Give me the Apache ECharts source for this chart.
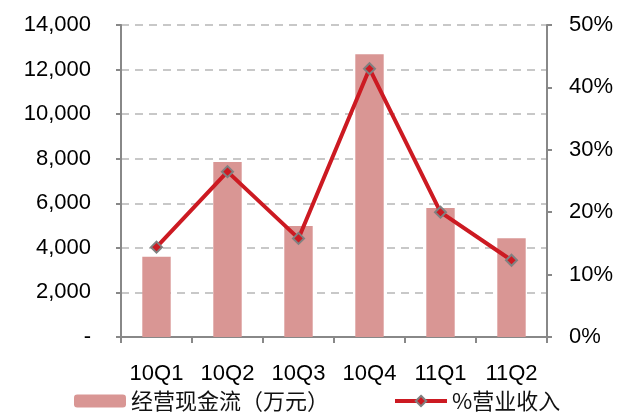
<!DOCTYPE html>
<html>
<head>
<meta charset="utf-8">
<script src="https://cdn.jsdelivr.net/npm/echarts@6/dist/echarts.min.js"></script>
<style>html,body{margin:0;padding:0;background:#fff}#c{width:632px;height:417px}</style>
</head>
<body>
<div id="c"></div>
<script>
const categories = ['10Q1', '10Q2', '10Q3', '10Q4', '11Q1', '11Q2'];
const cashFlow = [3600, 7850, 4980, 12690, 5790, 4430];
const revenuePct = [14.4, 26.5, 15.8, 43.0, 20.0, 12.3];
const barName = '经营现金流（万元）';
const lineName = '%营业收入';

const chart = echarts.init(document.getElementById('c'));
const axisCol = '#888888';
const font = 'Liberation Sans, Arial, sans-serif';
chart.setOption({
  animation: false,
  grid: { left: 121, right: 85, top: 25, bottom: 80 },
  legend: {
    bottom: 0,
    left: 69,
    itemGap: 64,
    itemWidth: 52,
    itemHeight: 13,
    textStyle: { fontSize: 22, color: '#111', fontFamily: 'Noto Sans CJK SC, sans-serif' },
    data: [barName, { name: lineName, lineStyle: { width: 4 } }]
  },
  xAxis: {
    type: 'category',
    data: categories,
    axisLine: { lineStyle: { color: axisCol, width: 2 } },
    axisTick: { show: true, length: 6, lineStyle: { color: axisCol, width: 2 } },
    axisLabel: { fontSize: 22, color: '#000', fontFamily: font, margin: 26 }
  },
  yAxis: [
    {
      type: 'value', min: 0, max: 14000, interval: 2000,
      axisLine: { show: true, lineStyle: { color: axisCol, width: 2 } },
      axisTick: { show: true, length: 5, lineStyle: { color: axisCol, width: 2 } },
      splitLine: { lineStyle: { color: '#c8c8c8', type: [8, 6], width: 2 } },
      axisLabel: {
        fontSize: 22, color: '#000', fontFamily: font, margin: 30,
        formatter: v => v === 0 ? '-' : v.toLocaleString('en-US')
      }
    },
    {
      type: 'value', min: 0, max: 50, interval: 10, position: 'right',
      axisLine: { show: true, lineStyle: { color: axisCol, width: 2 } },
      axisTick: { show: true, length: 5, lineStyle: { color: axisCol, width: 2 } },
      splitLine: { show: false },
      axisLabel: { fontSize: 22, color: '#000', fontFamily: font, margin: 22, formatter: '{value}%' }
    }
  ],
  series: [
    {
      name: barName, type: 'bar', data: cashFlow, yAxisIndex: 0,
      barWidth: '40%',
      itemStyle: { color: '#D99694' }
    },
    {
      name: lineName, type: 'line', data: revenuePct, yAxisIndex: 1,
      symbol: 'diamond', symbolSize: 11,
      lineStyle: { color: '#CC1A22', width: 4 },
      itemStyle: { color: '#CC1A22', borderColor: '#808080', borderWidth: 2 },
      z: 5
    }
  ]
});
</script>
</body>
</html>
